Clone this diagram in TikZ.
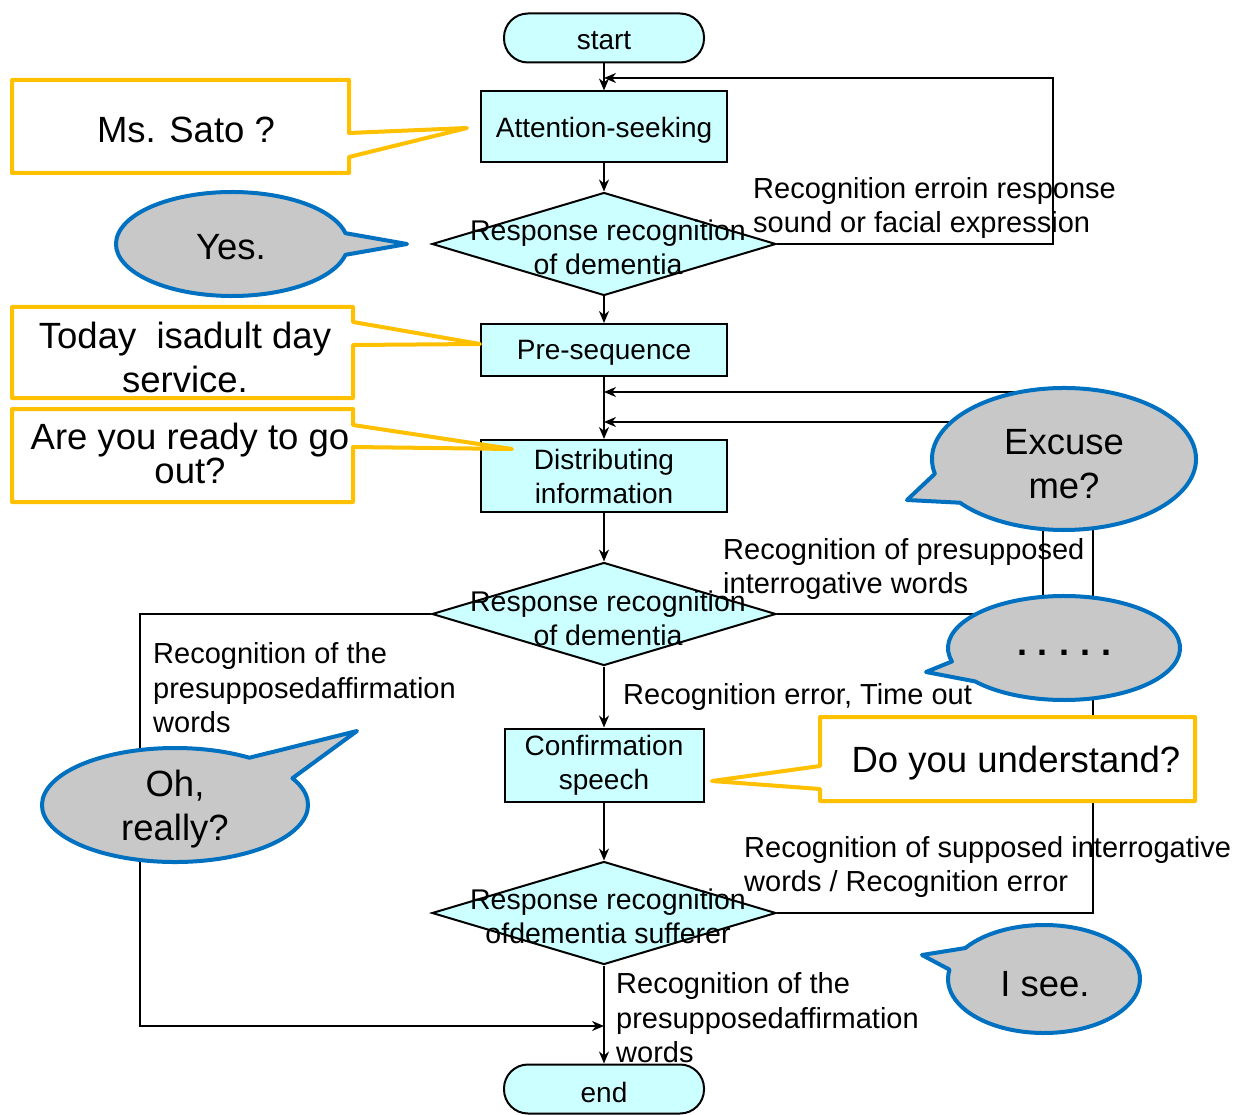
\documentclass[tikz,border=0pt]{standalone}
\usepackage{fontspec}
\setmainfont{Liberation Sans}
\usetikzlibrary{arrows.meta,shapes.geometric,calc}
\definecolor{flowfill}{HTML}{CCFFFF}
\definecolor{calloutY}{HTML}{FFC000}
\definecolor{bubbleB}{HTML}{0070C0}
\definecolor{bubbleG}{HTML}{C8C8C8}
\newcommand{\lowr}[1]{\raisebox{-3pt}[\height][\depth]{#1}}
\begin{document}
\begin{tikzpicture}[x=1pt,y=-1pt,
 box/.style={draw, line width=2pt, fill=flowfill, inner sep=0pt, align=center, font=\fontsize{28}{34}\selectfont},
 term/.style={box, rounded corners=24pt, minimum width=200pt, minimum height=49pt},
 proc/.style={box, minimum width=246pt},
 dec/.style={draw, line width=2pt, fill=flowfill, shape=diamond, minimum width=344pt, minimum height=103pt, inner sep=0pt},
 dectext/.style={align=center, inner sep=0pt, font=\fontsize{28.5}{34}\selectfont},
 flow/.style={line width=2pt, -{Stealth[length=12pt,width=10pt]}},
 lab/.style={anchor=west, align=left, inner sep=0pt, font=\fontsize{29}{34.5}\selectfont},
 yc/.style={draw=calloutY, line width=4pt, fill=white, line join=round},
 bc/.style={draw=bubbleB, line width=4pt, fill=bubbleG, line join=round},
 ctext/.style={align=center, inner sep=0pt, font=\fontsize{36.5}{44}\selectfont},
]
\fill[white] (0,0) rectangle (1253,1115);
\useasboundingbox (0,0) rectangle (1253,1115);

% flow nodes
\node[term] (start) at (604,38) {\lowr{start}};
\node[proc, minimum height=71pt] (att) at (604,127) {\lowr{Attention-seeking}};
\node[dec] (d1) at (604,244) {};
\node[proc, minimum height=52pt] (pre) at (604,350) {\lowr{Pre-sequence}};
\node[proc, minimum height=72pt] (dist) at (604,476) {Distributing\\information};
\node[dec] (d2) at (604,614) {};
\node[box, minimum width=199pt, minimum height=73pt] (conf) at (604,765) {Confirmation\\speech};
\node[dec] (d3) at (604,913) {};
\node[term] (stop) at (604,1089) {\lowr{end}};

\coordinate (j1) at (604,78);
\coordinate (j2) at (604,392);
\coordinate (j3) at (604,422);
\coordinate (j4) at (604,1026);

% connectors
\draw[flow] (start) -- (att);
\draw[flow] (att) -- (d1);
\draw[flow] (d1) -- (pre);
\draw[flow] (pre) -- (dist);
\draw[flow] (dist) -- (d2);
\draw[flow] (d2) -- (conf);
\draw[flow] (conf) -- (d3);
\draw[flow] (d3) -- (stop);
\draw[flow] (d1.east) -| (1053,78) -- (j1);
\draw[flow] (d3.east) -| (1093,392) -- (j2);
\draw[flow] (d2.east) -| (1043,422) -- (j3);
\draw[flow] (d2.west) -| (140,1026) -- (j4);

% diamond texts
\node[dectext] (d1t) at (608,247) {Response recognition\\of dementia};
\node[dectext] (d2t) at (608,618) {Response recognition\\of dementia};
\node[dectext] (d3t) at (608,916) {Response recognition\\ofdementia sufferer};

% labels
\node[lab] (l1) at (753,208) {Recognition erroin response\\sound or facial expression};
\node[lab] (l2) at (723,569) {Recognition of presupposed\\interrogative words};
\node[lab] (l3) at (153,688) {Recognition of the\\presupposedaffirmation\\words};
\node[lab] (l4) at (623,697) {Recognition error, Time out};
\node[lab] (l5) at (744,867) {Recognition of supposed interrogative\\words / Recognition error};
\node[lab] (l6) at (616,1018) {Recognition of the\\presupposedaffirmation\\words};

% yellow callouts
\draw[yc] (12,80) -- (349,80) -- (349,133) -- (467,128) -- (349,157) -- (349,173) -- (12,173) -- cycle;
\node[ctext] (c1) at (186,130) {Ms. Sato ?};
\draw[yc] (12,307) -- (353,307) -- (353,322) -- (480,344) -- (353,345) -- (353,398) -- (12,398) -- cycle;
\node[ctext] (c2) at (185,357) {Today\ \ isadult day\\service.};
\draw[yc] (12,409) -- (353,409) -- (353,425) -- (512,449) -- (353,447) -- (353,502) -- (12,502) -- cycle;
\node[ctext, font=\fontsize{36.5}{30}\selectfont] (c3) at (190,453) {Are you ready to go\\out?};
\draw[yc] (820,717) -- (1195,717) -- (1195,801) -- (820,801) -- (820,789) -- (712,781) -- (820,766) -- cycle;
\node[ctext] (c4) at (1016,763) {Do you understand?};

% speech bubbles
\draw[bc] (232,244) ++(12:116 and 52) arc[start angle=12, end angle=348, x radius=116, y radius=52] -- (407,244) -- cycle;
\node[ctext] (b1) at (231,247) {Yes.};
\draw[bc] (1064,459) ++(168:132 and 71) arc[start angle=168, end angle=502, x radius=132, y radius=71] -- (907,500) -- cycle;
\node[ctext] (b2) at (1064,464) {Excuse\\me?};
\draw[bc] (1064,648) ++(165:116 and 52) arc[start angle=165, end angle=500, x radius=116, y radius=52] -- (926,672) -- cycle;
\node[ctext, font=\bfseries\fontsize{36}{44}\selectfont] (b3) at (1064,653) {.\kern11pt.\kern11pt.\kern11pt.\kern11pt.};
\draw[bc] (175,805) ++(-28:133 and 57) arc[start angle=-28, end angle=304, x radius=133, y radius=57] -- (357,731) -- cycle;
\node[ctext] (b4) at (175,809) {Oh,\\really?};
\draw[bc] (1044,979) ++(215:96 and 54) arc[start angle=215, end angle=550, x radius=96, y radius=54] -- (922,955) -- cycle;
\node[ctext] (b5) at (1045,984) {I see.};
\end{tikzpicture}
\end{document}
